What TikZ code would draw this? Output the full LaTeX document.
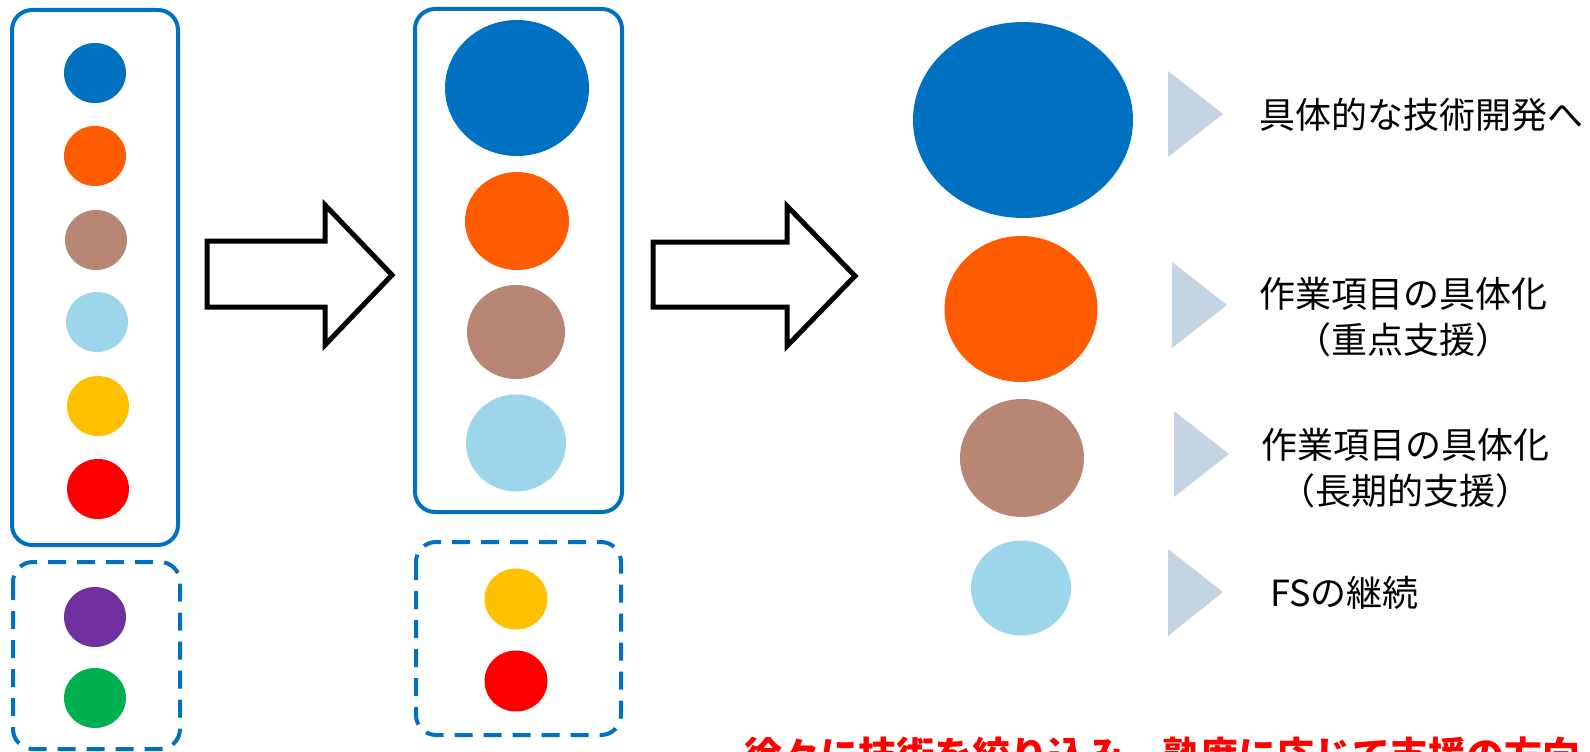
\documentclass[tikz,border=0pt]{standalone}
\usepackage{fontspec}
\newfontfamily\cjk{Noto Sans CJK JP}
\usetikzlibrary{shapes.geometric}
\definecolor{boxblue}{RGB}{0,112,192}
\definecolor{cblue}{RGB}{0,112,192}
\definecolor{corange}{RGB}{255,91,0}
\definecolor{cbrown}{RGB}{184,134,116}
\definecolor{clight}{RGB}{157,213,235}
\definecolor{cyellow}{RGB}{255,192,0}
\definecolor{cred}{RGB}{255,0,0}
\definecolor{cpurple}{RGB}{112,48,160}
\definecolor{cgreen}{RGB}{0,176,80}
\definecolor{trigray}{RGB}{196,212,226}
\tikzset{
  dot/.style={ellipse, inner sep=0pt, draw=none},
  solidbox/.style={draw=boxblue, line width=4pt, rounded corners=20pt},
  dashbox/.style={draw=boxblue, line width=4pt, rounded corners=20pt, dash pattern=on 18pt off 11pt},
  blockarrow/.style={draw=black, line width=5pt, fill=white, line join=miter},
  tri/.style={fill=trigray, draw=none},
  label/.style={font=\cjk\fontsize{36}{46}\selectfont, inner sep=0pt, text=black},
}
\begin{document}
\begin{tikzpicture}[x=1pt, y=-1pt]
\useasboundingbox (0,0) rectangle (1590,752);
\clip (0,0) rectangle (1590,752);
% left column
\draw[solidbox] (12,10) rectangle (178,545);
\draw[dashbox] (13,562) rectangle (180,749);
\node[dot, fill=cblue, minimum width=62pt, minimum height=60pt] (l1) at (95,73) {};
\node[dot, fill=corange, minimum width=62pt, minimum height=60pt] (l2) at (95,156) {};
\node[dot, fill=cbrown, minimum width=62pt, minimum height=60pt] (l3) at (96,240) {};
\node[dot, fill=clight, minimum width=62pt, minimum height=60pt] (l4) at (97,322) {};
\node[dot, fill=cyellow, minimum width=62pt, minimum height=60pt] (l5) at (98,406) {};
\node[dot, fill=cred, minimum width=62pt, minimum height=60pt] (l6) at (98,489) {};
\node[dot, fill=cpurple, minimum width=62pt, minimum height=60pt] (l7) at (95,617) {};
\node[dot, fill=cgreen, minimum width=62pt, minimum height=60pt] (l8) at (95,698) {};
% arrow 1
\draw[blockarrow] (207,241) -- (325,241) -- (325,205) -- (392,275) -- (325,345) -- (325,307) -- (207,307) -- cycle;
% middle column
\draw[solidbox] (415,9) rectangle (622,512);
\draw[dashbox] (416,542) rectangle (621,735);
\node[dot, fill=cblue, minimum width=144pt, minimum height=136pt] (m1) at (517,88) {};
\node[dot, fill=corange, minimum width=104pt, minimum height=98pt] (m2) at (517,221) {};
\node[dot, fill=cbrown, minimum width=98pt, minimum height=94pt] (m3) at (516,332) {};
\node[dot, fill=clight, minimum width=100pt, minimum height=97pt] (m4) at (516,443) {};
\node[dot, fill=cyellow, minimum width=63pt, minimum height=61pt] (m5) at (516,599) {};
\node[dot, fill=cred, minimum width=63pt, minimum height=61pt] (m6) at (516,681) {};
% arrow 2
\draw[blockarrow] (653,242) -- (787,242) -- (787,206) -- (855,276) -- (787,346) -- (787,307) -- (653,307) -- cycle;
% right column
\node[dot, fill=cblue, minimum width=220pt, minimum height=196pt] (r1) at (1023,120) {};
\node[dot, fill=corange, minimum width=153pt, minimum height=146pt] (r2) at (1021,309) {};
\node[dot, fill=cbrown, minimum width=124pt, minimum height=118pt] (r3) at (1022,458) {};
\node[dot, fill=clight, minimum width=100pt, minimum height=95pt] (r4) at (1021,588) {};
% triangles
\fill[tri] (1168,71) -- (1223,114) -- (1168,157) -- cycle;
\fill[tri] (1172,262) -- (1227,305) -- (1172,348) -- cycle;
\fill[tri] (1174,411) -- (1229,454) -- (1174,497) -- cycle;
\fill[tri] (1168,549) -- (1223,592) -- (1168,636) -- cycle;
% labels
\node[label, anchor=west] (t1) at (1259,115) {具体的な技術開発へ};
\node[label, align=center] (t2) at (1403,317) {作業項目の具体化\\（重点支援）};
\node[label, align=center] (t3) at (1405,468) {作業項目の具体化\\（長期的支援）};
\node[label, anchor=west] (t4) at (1270,593) {FSの継続};
% bottom red text (cut off at the lower edge, as in the reference)
\node[anchor=base west, inner sep=0pt, text=cred, font=\cjk\bfseries\fontsize{38}{44}\selectfont] (bt) at (744,769) {徐々に技術を絞り込み、熟度に応じて支援の方向};
\end{tikzpicture}
\end{document}
